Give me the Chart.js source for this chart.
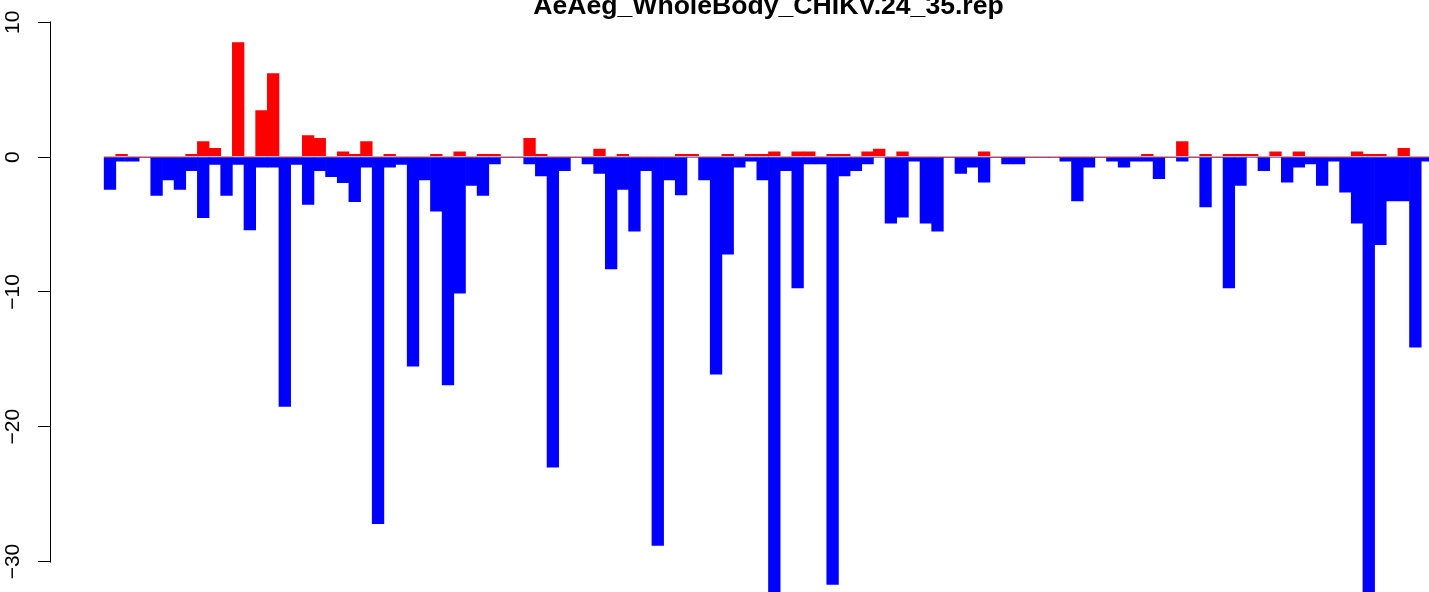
<!DOCTYPE html>
<html>
<head>
<meta charset="utf-8">
<script src="https://cdn.jsdelivr.net/npm/chart.js@4.4.1/dist/chart.umd.min.js"></script>
<style>
  html, body { margin: 0; padding: 0; background: #ffffff; overflow: hidden; width: 1429px; height: 592px; }
  canvas { display: block; }
</style>
</head>
<body>
<canvas id="chart" width="1486" height="592"></canvas>
<script>
// ---- data ----
const titleText = "AeAeg_WholeBody_CHIKV.24_35.rep";

// positive (red) values, one per position
const upValues = [
  0, 0.2, 0, 0, 0, 0, 0, 0.2, 1.15, 0.65,
  0, 8.5, 0, 3.45, 6.2, 0, 0, 1.6, 1.4, 0,
  0.4, 0.2, 1.15, 0, 0.2, 0, 0, 0, 0.2, 0,
  0.4, 0, 0.2, 0.2, 0, 0, 1.4, 0.2, 0, 0,
  0, 0, 0.6, 0, 0.2, 0, 0, 0, 0, 0.2,
  0.2, 0, 0, 0.2, 0, 0.2, 0.2, 0.4, 0, 0.4,
  0.4, 0, 0.2, 0.2, 0, 0.4, 0.6, 0, 0.4, 0,
  0, 0, 0, 0, 0, 0.4, 0, 0, 0, 0,
  0, 0, 0, 0, 0, 0, 0, 0, 0, 0.2,
  0, 0, 1.15, 0, 0.2, 0, 0.2, 0.2, 0.2, 0,
  0.4, 0, 0.4, 0, 0, 0, 0, 0.4, 0.2, 0.2,
  0, 0.65, 0, 0
];

// negative (blue) values, one per position
const downValues = [
  -2.4, -0.3, -0.3, 0, -2.85, -1.7, -2.4, -1.0, -4.5, -0.55,
  -2.85, -0.55, -5.4, -0.75, -0.75, -18.5, -0.55, -3.5, -1.0, -1.45,
  -1.9, -3.3, -0.75, -27.2, -0.75, -0.55, -15.5, -1.7, -4.0, -16.9,
  -10.1, -2.1, -2.85, -0.5, 0, 0, -0.5, -1.4, -23.0, -1.0,
  0, -0.5, -1.2, -8.3, -2.4, -5.5, -1.0, -28.8, -1.7, -2.8,
  0, -1.7, -16.1, -7.2, -0.75, -0.3, -1.7, -33, -1.0, -9.7,
  -0.5, -0.5, -31.7, -1.4, -1.0, -0.5, 0, -4.9, -4.45, -0.3,
  -4.9, -5.5, 0, -1.2, -0.75, -1.85, 0, -0.5, -0.5, 0,
  0, 0, -0.3, -3.25, -0.75, 0, -0.3, -0.75, -0.3, -0.3,
  -1.6, 0, -0.3, 0, -3.7, 0, -9.7, -2.1, 0, -1.0,
  0, -1.85, -0.75, -0.5, -2.1, -0.3, -2.6, -4.9, -33, -6.5,
  -3.25, -3.25, -14.1, -0.3
];

// categories: positions 1..N
const categories = upValues.map((_, i) => i + 1);

// y axis ticks
const yTickValues = [10, 0, -10, -20, -30];
const yTickLabels = ["10", "0", "\u221210", "\u221220", "\u221230"];

// ---- chart ----
const N = categories.length;
const pad = 0.04 * N;                 // R-style 4% axis extension
const yMin = -32.26, yMax = 10;

const upPoints = categories.map((c, i) => ({ x: i + 0.5, y: upValues[i] }));
const downPoints = categories.map((c, i) => ({ x: i + 0.5, y: downValues[i] }));

const rStylePlugin = {
  id: 'rStyle',
  afterDatasetsDraw(chart) {
    const { ctx, scales: { x, y } } = chart;
    ctx.save();
    // grey zero line across the bars
    const py = Math.round(y.getPixelForValue(0)) - 0.5;
    ctx.strokeStyle = '#b4b4b4';
    ctx.lineWidth = 1;
    ctx.beginPath();
    ctx.moveTo(x.getPixelForValue(0), py);
    ctx.lineTo(x.getPixelForValue(N), py);
    ctx.stroke();
    ctx.restore();
  },
  afterDraw(chart) {
    const { ctx, chartArea, scales: { y } } = chart;
    ctx.save();
    // y axis line from first to last tick, as R draws it
    const ax = chartArea.left - 0.5;
    const top = Math.round(y.getPixelForValue(yTickValues[0])) - 0.5;
    const bot = Math.round(y.getPixelForValue(yTickValues[yTickValues.length - 1])) + 0.5;
    ctx.strokeStyle = '#000000';
    ctx.lineWidth = 1;
    ctx.beginPath();
    ctx.moveTo(ax, top);
    ctx.lineTo(ax, bot);
    ctx.stroke();
    ctx.restore();
  }
};

new Chart(document.getElementById('chart'), {
  type: 'bar',
  data: {
    datasets: [
      { label: 'up', data: upPoints, backgroundColor: '#ff0000', borderWidth: 0 },
      { label: 'down', data: downPoints, backgroundColor: '#0000ff', borderWidth: 0 }
    ]
  },
  options: {
    responsive: false,
    animation: false,
    devicePixelRatio: 1,
    layout: { padding: 0 },
    datasets: { bar: { grouped: false, barPercentage: 1, categoryPercentage: 1 } },
    plugins: {
      legend: { display: false },
      tooltip: { enabled: false },
      title: {
        display: true,
        text: titleText,
        fullSize: false,
        color: '#000000',
        font: { family: "'Liberation Sans', Arial, sans-serif", size: 26.6, weight: 'bold', lineHeight: 1 },
        padding: { top: -6.5, bottom: 2.22 }
      }
    },
    scales: {
      x: {
        type: 'linear',
        offset: false,
        min: -pad,
        max: N + pad,
        display: false,
        grid: { display: false, offset: false }
      },
      y: {
        type: 'linear',
        min: yMin,
        max: yMax,
        afterBuildTicks(scale) {
          scale.ticks = yTickValues.map(v => ({ value: v }));
        },
        afterFit(scale) {
          scale.width = 51;
          scale.paddingTop = 0;
          scale.paddingBottom = 0;
          scale.paddingLeft = 0;
          scale.paddingRight = 0;
        },
        border: { display: false },
        grid: {
          display: true,
          drawOnChartArea: false,
          drawTicks: true,
          tickLength: 13,
          color: '#000000',
          lineWidth: 1
        },
        ticks: {
          minRotation: 90,
          maxRotation: 90,
          crossAlign: 'center',
          padding: 7,
          color: '#000000',
          font: { family: "'Liberation Sans', Arial, sans-serif", size: 21 },
          callback(value) {
            const k = yTickValues.indexOf(value);
            return k >= 0 ? yTickLabels[k] : '';
          }
        }
      }
    }
  },
  plugins: [rStylePlugin]
});
</script>
</body>
</html>
